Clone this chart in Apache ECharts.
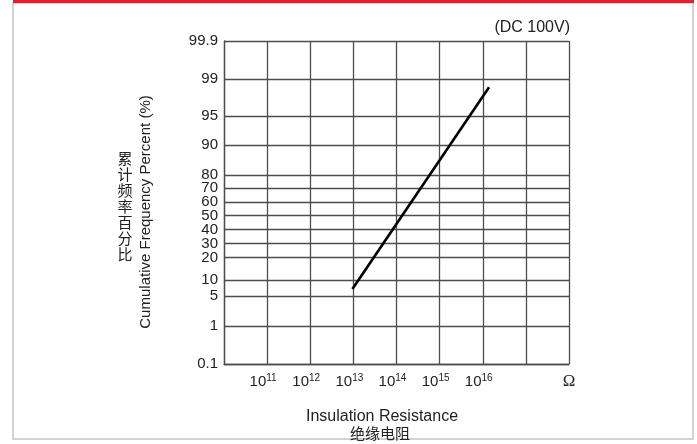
<!DOCTYPE html>
<html><head><meta charset="utf-8">
<script src="https://cdn.jsdelivr.net/npm/echarts@6/dist/echarts.min.js"></script>
<style>html,body{margin:0;padding:0;background:#fff}#c{width:697px;height:444px}</style>
</head><body><div id="c"></div>
<script>
// Data
const resistanceOhm = [9.5e12, 1.4e16];          // line end points (Ω)
const cumulativePercent = [7.2, 98.1];           // cumulative frequency (%)
// Tick labels
const xTickExponents = [11, 12, 13, 14, 15, 16]; // 10^n labels
const yTickLabels = [0.1, 1, 5, 10, 20, 30, 40, 50, 60, 70, 80, 90, 95, 99, 99.9];
// Probability-paper scale of the printed chart (axis units for each labelled percent)
const yPaperScale = [0, 38, 68, 84, 106.5, 120.5, 134.5, 148.5, 162, 176, 189.5, 219.5, 248.5, 285.5, 323.5];

function toPaper(p) {
  for (let i = 0; i < yTickLabels.length - 1; i++) {
    if (p <= yTickLabels[i + 1]) {
      const t = (p - yTickLabels[i]) / (yTickLabels[i + 1] - yTickLabels[i]);
      return yPaperScale[i] + t * (yPaperScale[i + 1] - yPaperScale[i]);
    }
  }
  return yPaperScale[yPaperScale.length - 1];
}
function paperLabel(v) {
  let best = 0, d = Infinity;
  yPaperScale.forEach((s, i) => { if (Math.abs(s - v) < d) { d = Math.abs(s - v); best = i; } });
  return String(yTickLabels[best]);
}

const lineData = resistanceOhm.map((r, i) => [r, toPaper(cumulativePercent[i])]);
const gridColor = '#4d4d4d';
const txt = '#222';
const sans = 'Liberation Sans, Arial, sans-serif';
const cjk = 'Noto Sans CJK SC, sans-serif';

const chart = echarts.init(document.getElementById('c'), null, { renderer: 'canvas' });
chart.setOption({
  backgroundColor: '#fff',
  animation: false,
  grid: { left: 224, right: 128, top: 41, bottom: 80 },
  xAxis: {
    type: 'log', logBase: 10, min: 1e10, max: 1e18, interval: 1,
    axisLine: { show: true, lineStyle: { color: gridColor, width: 1.3 } },
    axisTick: { show: false },
    splitLine: { show: true, lineStyle: { color: gridColor, width: 1.3 } },
    axisLabel: {
      margin: 9, padding: [0, 8, 0, 0],
      formatter: function (v) {
        const e = Math.round(Math.log10(v));
        if (xTickExponents.indexOf(e) >= 0) return '{b|10}{s|' + e + '}';
        if (e === 18) return '{o|Ω}';
        return '';
      },
      rich: {
        b: { fontSize: 15, fontFamily: sans, color: txt, lineHeight: 18 },
        s: { fontSize: 10, fontFamily: sans, color: txt, lineHeight: 18, verticalAlign: 'top', padding: [0, 0, 7, 0] },
        o: { fontSize: 17, fontFamily: 'Liberation Serif, serif', color: txt, lineHeight: 18, padding: [0, 0, 0, 8] }
      }
    }
  },
  yAxis: {
    type: 'value', min: 0, max: 323.5,
    axisLine: { show: true, lineStyle: { color: gridColor, width: 1.3 } },
    axisTick: { show: false, customValues: yPaperScale },
    splitLine: { show: true, lineStyle: { color: gridColor, width: 1.3 } },
    axisLabel: {
      customValues: yPaperScale, margin: 6,
      fontSize: 15, fontFamily: sans, color: txt,
      formatter: paperLabel
    }
  },
  series: [{
    type: 'line', data: lineData, showSymbol: false, symbol: 'none',
    lineStyle: { color: '#000', width: 2.6 }, z: 5
  }],
  graphic: [
    { type: 'rect', z: -10, shape: { x: 13, y: 3, width: 680, height: 436 }, style: { fill: 'none', stroke: '#c4c4c4', lineWidth: 1.5 } },
    { type: 'rect', z: -9, shape: { x: 13, y: 0, width: 681, height: 3 }, style: { fill: '#ec1c2c' } },
    { type: 'text', x: 570, y: 28, style: { text: '(DC 100V)', fontSize: 16, fontFamily: sans, fill: txt, align: 'right', verticalAlign: 'middle' } },
    { type: 'text', x: 146, y: 212, rotation: Math.PI / 2, style: { text: 'Cumulative Frequency Percent (%)', fontSize: 15, fontFamily: sans, fill: txt, align: 'center', verticalAlign: 'middle' } },
    { type: 'text', x: 125, y: 206, style: { text: '累\n计\n频\n率\n百\n分\n比', fontSize: 15, lineHeight: 16, fontFamily: cjk, fill: txt, align: 'center', verticalAlign: 'middle' } },
    { type: 'text', x: 382, y: 417, style: { text: 'Insulation Resistance', fontSize: 16, fontFamily: sans, fill: txt, align: 'center', verticalAlign: 'middle' } },
    { type: 'text', x: 380, y: 433, style: { text: '绝缘电阻', fontSize: 15, fontFamily: cjk, fill: txt, align: 'center', verticalAlign: 'middle' } }
  ]
});
</script></body></html>
